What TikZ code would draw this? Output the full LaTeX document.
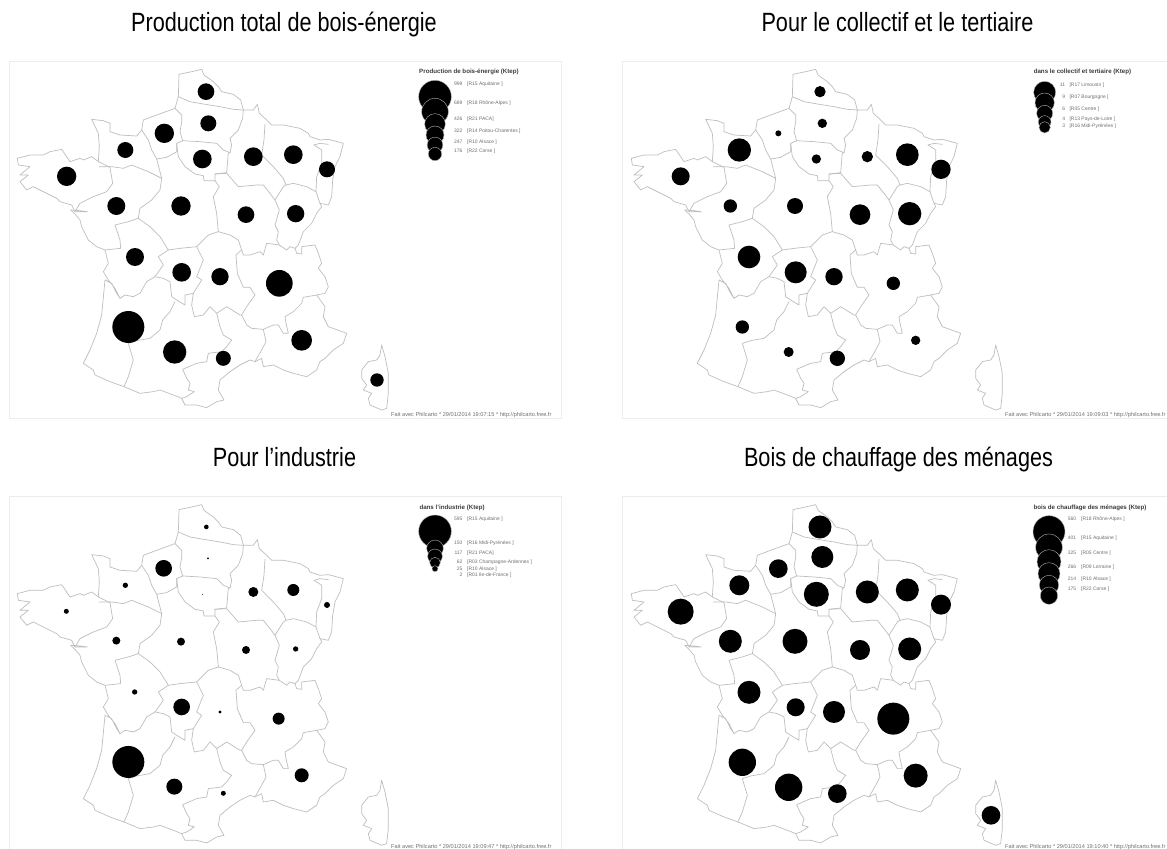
\documentclass[tikz,border=0pt]{standalone}
\usepackage{fontspec}
\setmainfont{Liberation Sans}
\definecolor{mapline}{HTML}{BEBEBE}
\definecolor{framec}{HTML}{ECECEC}
\definecolor{legtxt}{HTML}{707070}
\definecolor{legtitle}{HTML}{3C3C3C}
\tikzset{
  regionline/.style={draw=mapline,line width=0.7bp,line join=round,line cap=round},
  panelframe/.style={draw=framec,line width=1bp},
  bigtitle/.style={font=\fontsize{26.5}{30}\selectfont,text=black,inner sep=0pt,xscale=0.82,anchor=base},
  legendtitle/.style={font=\bfseries\fontsize{6.2}{7.5}\selectfont,text=legtitle,inner sep=0pt},
  legendtext/.style={font=\fontsize{5}{6}\selectfont,text=legtxt,inner sep=0pt},
  footnote/.style={font=\fontsize{5.65}{7}\selectfont,text=legtxt,inner sep=0pt,anchor=mid west},
  legenddisc/.style={fill=black,draw=black!30,line width=0.4bp},
  mapdisc/.style={fill=black}
}
\newcommand{\francemap}{%
  % outer contour
  \draw[regionline] (537,73)--(575,65)--(605,58)--(612,75)--(640,95)--(655,110)--(665,125)--(700,133)--(722,150)--(730,180)--(760,180)--(772,163)--(778,190)--(800,210)--(815,225)--(850,225)--(900,235)--(925,250)--(930,260)--(960,270)--(985,268)--(1030,280)--(1020,320)--(1005,350)--(998,390)--(995,440)--(985,465)--(960,460)--(965,470)--(950,490)--(935,520)--(910,545)--(895,585)--(885,595)--(890,610)--(905,612)--(905,590)--(945,585)--(955,610)--(965,640)--(955,655)--(975,680)--(985,710)--(975,730)--(950,735)--(975,770)--(970,800)--(985,830)--(1040,850)--(1030,880)--(1000,900)--(975,925)--(960,935)--(950,960)--(920,980)--(880,970)--(850,960)--(820,945)--(790,950)--(785,925)--(765,935)--(750,930)--(720,945)--(690,965)--(660,990)--(655,1020)--(672,1050)--(650,1055)--(620,1073)--(590,1065)--(555,1065)--(545,1045)--(520,1035)--(480,1020)--(460,1025)--(420,1030)--(372,1010)--(330,995)--(285,975)--(280,960)--(250,940)--(270,900)--(290,850)--(305,795)--(315,690)--(335,700)--(350,730)--(360,745)--(345,715)--(325,690)--(310,665)--(325,640)--(315,600)--(290,590)--(265,570)--(245,530)--(240,510)--(225,492)--(212,480)--(240,482)--(262,485)--(225,485)--(215,465)--(180,455)--(170,445)--(130,425)--(100,410)--(80,420)--(60,395)--(85,375)--(60,375)--(90,350)--(55,345)--(52,325)--(90,315)--(130,315)--(150,305)--(185,298)--(210,335)--(240,325)--(250,330)--(275,320)--(295,335)--(298,290)--(295,250)--(275,208)--(310,212)--(330,220)--(330,245)--(360,255)--(410,258)--(425,240)--(430,210)--(470,195)--(525,175)--(535,140)--cycle;
  % inner boundaries
  \draw[regionline] (535,140)--(570,155)--(610,162)--(660,170)--(700,178)--(730,180);
  \draw[regionline] (525,175)--(545,195)--(545,215)--(540,245)--(548,272)--(530,280)--(530,305)--(500,322)--(470,327)--(455,300)--(445,270)--(425,240);
  \draw[regionline] (548,272)--(600,275)--(650,280)--(670,300)--(690,308);
  \draw[regionline] (730,180)--(728,205)--(715,240)--(690,265)--(695,285)--(690,308)--(685,308)--(680,368)--(645,372)--(645,392)--(612,392)--(610,377)--(585,372)--(555,350)--(535,320)--(530,280);
  \draw[regionline] (795,222)--(792,270)--(785,315)--(820,350)--(850,385)--(858,405);
  \draw[regionline] (645,372)--(680,370)--(715,410)--(770,405)--(790,405)--(810,430)--(825,450)--(850,410)--(858,405)--(880,400)--(920,410)--(948,425)--(960,460);
  \draw[regionline] (942,285)--(965,300)--(965,340)--(950,380)--(948,425);
  \draw[regionline] (942,285)--(960,280)--(985,283);
  \draw[regionline] (825,450)--(838,480)--(825,525)--(835,545)--(830,570)--(838,585)--(860,600)--(870,590)--(885,595);
  \draw[regionline] (725,600)--(730,615)--(750,615)--(780,605)--(790,615)--(800,580)--(838,585);
  \draw[regionline] (645,392)--(658,410)--(640,440)--(650,490)--(655,545)--(690,555)--(715,570)--(725,600);
  \draw[regionline] (655,545)--(625,555)--(590,590)--(540,595)--(505,600)--(480,560)--(450,530)--(415,505)--(420,475)--(455,450)--(480,420)--(485,385)--(470,327);
  \draw[regionline] (298,350)--(335,350)--(370,355)--(395,345)--(420,355)--(445,365)--(485,385);
  \draw[regionline] (295,335)--(330,352)--(338,400)--(320,425)--(280,440)--(240,460)--(225,485);
  \draw[regionline] (415,505)--(385,515)--(345,525)--(360,570)--(362,595)--(315,600);
  \draw[regionline] (505,600)--(475,620)--(490,645)--(465,680)--(440,695)--(420,730)--(400,740)--(375,735)--(360,745);
  \draw[regionline] (590,590)--(610,630)--(590,680)--(605,690)--(580,730)--(555,735)--(555,765)--(530,750)--(515,740)--(510,695)--(490,685)--(465,680);
  \draw[regionline] (525,755)--(510,785)--(488,810)--(480,840)--(450,865)--(410,872)--(385,880)--(400,930)--(385,980)--(372,1010);
  \draw[regionline] (725,600)--(708,615)--(712,670)--(730,712)--(750,712)--(765,735)--(740,770)--(725,795);
  \draw[regionline] (580,730)--(575,765)--(583,800)--(610,795)--(630,770)--(650,790)--(680,770)--(720,795)--(725,795);
  \draw[regionline] (725,795)--(740,825)--(755,835)--(790,838)--(820,825)--(835,825)--(850,850)--(865,850)--(858,820)--(855,800)--(880,785)--(905,760)--(910,742)--(950,735);
  \draw[regionline] (790,838)--(798,875)--(785,900)--(765,935);
  \draw[regionline] (650,790)--(660,830)--(670,855)--(695,870)--(680,890)--(665,905)--(625,910)--(620,935)--(590,940)--(548,958)--(560,985)--(570,1000)--(565,1020)--(583,1025)--(560,1040)--(545,1045);
  % Corsica
  \draw[regionline] (1145,885)--(1155,920)--(1165,970)--(1165,1030)--(1160,1075)--(1145,1080)--(1110,1065)--(1105,1045)--(1115,1030)--(1090,1020)--(1100,1005)--(1085,985)--(1085,960)--(1105,935)--(1130,930)--(1140,915)--cycle;
}
\begin{document}
\begin{tikzpicture}[x=1bp,y=-1bp]
\useasboundingbox (0,0) rectangle (1167,849);
\fill[white] (0,0) rectangle (1167,849);
% titles
\node[bigtitle] (t1) at (284,31) {Production total de bois-énergie};
\node[bigtitle] (t2) at (897.5,31) {Pour le collectif et le tertiaire};
\node[bigtitle] (t3) at (284.5,466) {Pour l’industrie};
\node[bigtitle] (t4) at (898.5,466) {Bois de chauffage des ménages};
% frames
\draw[panelframe] (9,61) rectangle (561,418);
\draw[panelframe] (622,61) rectangle (1170,418);
\draw[panelframe] (9,496.5) rectangle (561,852);
\draw[panelframe] (622,496.5) rectangle (1170,852);
% ---------- panel 1
\begin{scope}[shift={(0,50)},scale=1/3]
\francemap
\foreach \x/\y/\r in {618/125/25,625/220/24,493/250/29,376/300/24,607/327/28,760/320/28,880/314/28,981/358/24,200/379/29,349/468/27,543/468/29,738/494/25,887/491/26,405/621/27,545/667/28,660/680/26,838/700/40,385/831/48,524/906/35,670/925/22.5,905/871/31,1131/990/20}
  \fill[mapdisc] (\x,\y) circle (\r);
\end{scope}
\node[legendtitle] (l1t) at (469,72) {Production de bois-énergie (Ktep)};
\begin{scope}[shift={(380,50)},scale=1/3]
\foreach \y/\r in {140/49,185/40,222/31,255/27,285/23.5,312/20}
  \draw[legenddisc] (165,\y) circle (\r);
\foreach \y/\v/\t [count=\i] in {100/999/{[R15 Aquitaine ]},157/689/{[R18 Rhône-Alpes ]},205/426/{[R21 PACA]},241/322/{[R14 Poitou-Charentes ]},273/247/{[R10 Alsace ]},301/176/{[R22 Corse ]}}{
  \node[legendtext,anchor=mid east] (l1v\i) at (248,\y) {\v};
  \node[legendtext,anchor=mid west] (l1n\i) at (261,\y) {\t};
}
\end{scope}
\node[footnote] (f1) at (391,413.5) {Fait avec Philcarto * 29/01/2014 19:07:15 * http://philcarto.free.fr};
% ---------- panel 2
\begin{scope}[shift={(614,50)},scale=1/3]
\francemap
\foreach \x/\y/\r in {618/125/17,625/220/14,493/250/9,376/300/35,607/327/14,760/320/17,880/314/34,981/358/29,200/379/27,349/468/20,543/468/24,738/494/31,887/491/35,405/621/34,545/667/33,660/680/26,838/700/20,385/831/20,524/906/15,670/925/23,905/871/14}
  \fill[mapdisc] (\x,\y) circle (\r);
\end{scope}
\node[legendtitle] (l2t) at (1082.5,72) {dans le collectif et tertiaire (Ktep)};
\begin{scope}[shift={(960,50)},scale=1/3]
\foreach \y/\r in {127/33,158/29,190/24,216/19,232/17}
  \draw[legenddisc] (254,\y) circle (\r);
\foreach \y/\v/\t [count=\i] in {102/11/{[R17 Limousin ]},138/9/{[R07 Bourgogne ]},174/6/{[R05 Centre ]},204/4/{[R13 Pays-de-Loire ]},225/3/{[R16 Midi-Pyrénées ]}}{
  \node[legendtext,anchor=mid east] (l2v\i) at (316,\y) {\v};
  \node[legendtext,anchor=mid west] (l2n\i) at (328,\y) {\t};
}
\end{scope}
\node[footnote] (f2) at (1005,413.5) {Fait avec Philcarto * 29/01/2014 19:09:03 * http://philcarto.free.fr};
% ---------- panel 3
\begin{scope}[shift={(0,485.3)},scale=1/3]
\francemap
\foreach \x/\y/\r in {619/125/7,624/219/3,491/249/25,376/300/8,607/327/1.5,760/320/15,880/314/18,981/359/9,199/378/7.5,349/466/12,543/469/12,738/494/12,887/491/8,404/620/8,545/665/25,660/680/5,836/700/18,385/830/48,523/904/24,670/924/7.5,905/870/21}
  \fill[mapdisc] (\x,\y) circle (\r);
\end{scope}
\node[legendtitle,anchor=west] (l3t) at (419.3,508) {dans l’industrie (Ktep)};
\begin{scope}[shift={(380,460)},scale=1/3]
\foreach \y/\r in {214/49,265/25,289/22,308/16,326/9}
  \draw[legenddisc] (165,\y) circle (\r);
\foreach \y/\v/\t [count=\i] in {173/595/{[R15 Aquitaine ]},247/150/{[R16 Midi-Pyrénées ]},275/117/{[R21 PACA]},304/62/{[R03 Champagne-Ardennes ]},324/25/{[R10 Alsace ]},341/2/{[R01 Ile-de-France ]}}{
  \node[legendtext,anchor=mid east] (l3v\i) at (248,\y) {\v};
  \node[legendtext,anchor=mid west] (l3n\i) at (261,\y) {\t};
}
\end{scope}
\node[footnote] (f3) at (391,845.5) {Fait avec Philcarto * 29/01/2014 19:09:47 * http://philcarto.free.fr};
% ---------- panel 4
\begin{scope}[shift={(614,485.3)},scale=1/3]
\francemap
\foreach \x/\y/\r in {618/125/34.5,625/215/33,493/250/28,376/300/30,607/327/37.5,760/320/34.5,880/314/34.5,981/358/30,200/379/39,349/468/34.5,543/468/37.5,738/494/30,887/491/34.5,405/621/34.5,545/666/27,660/680/33,838/700/48,385/831/41,524/906/41,670/925/28,905/871/36,1131/990/28}
  \fill[mapdisc] (\x,\y) circle (\r);
\end{scope}
\node[legendtitle] (l4t) at (1090,507.7) {bois de chauffage des ménages (Ktep)};
\begin{scope}[shift={(970,465)},scale=1/3]
\foreach \y/\r in {200/48,247/40,290/36,326/33,360/29,392/26}
  \draw[legenddisc] (237,\y) circle (\r);
\foreach \y/\v/\t [count=\i] in {159/560/{[R18 Rhône-Alpes ]},216/401/{[R15 Aquitaine ]},261/325/{[R05 Centre ]},303/266/{[R09 Lorraine ]},339/214/{[R10 Alsace ]},370/175/{[R22 Corse ]}}{
  \node[legendtext,anchor=mid east] (l4v\i) at (319,\y) {\v};
  \node[legendtext,anchor=mid west] (l4n\i) at (333,\y) {\t};
}
\end{scope}
\node[footnote] (f4) at (1005,845.5) {Fait avec Philcarto * 29/01/2014 19:10:40 * http://philcarto.free.fr};
\end{tikzpicture}
\end{document}
